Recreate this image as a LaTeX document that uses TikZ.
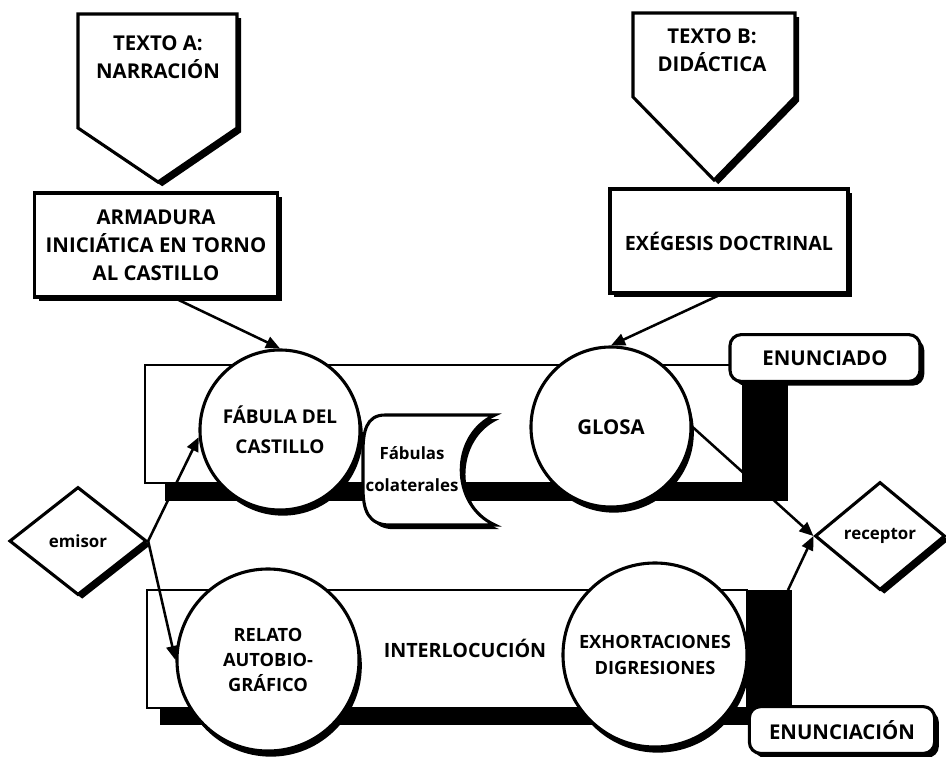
\documentclass[tikz,border=0pt]{standalone}
\usepackage{fontspec}
\setmainfont{Open Sans}
\usetikzlibrary{positioning,shapes.geometric,shadows,arrows.meta}

\begin{document}
\begin{tikzpicture}[
    x=0.025cm, y=-0.025cm,
    every node/.style={align=center, font=\bfseries\fontsize{14.5}{20}\selectfont},
    shad/.style={drop shadow={shadow xshift=3pt, shadow yshift=-3pt, fill=black, opacity=1}},
    heavy/.style={line width=2.2pt},
    textbox/.style={draw, heavy, fill=white, shad, minimum height=2.6cm},
    level/.style={draw, heavy, fill=white, shad, rounded corners=8pt, minimum height=1.17cm},
    circ/.style={circle, draw, heavy, fill=white, inner sep=0pt,
        drop shadow={shadow xshift=2pt, shadow yshift=-4pt, fill=black, opacity=1}},
    diam/.style={diamond, draw, heavy, fill=white, inner sep=0pt, shad,
        font=\bfseries\fontsize{12}{14}\selectfont},
    band/.style={draw, line width=1.6pt, fill=white},
    arr/.style={-{Triangle[length=10pt,width=8.5pt]}, line width=1.8pt}
]
\useasboundingbox (0,0) rectangle (946,756);

% Texts A and B
\draw[heavy, fill=white, shad] (78,14) -- (237,14) -- (237,128) -- (158,182) -- (78,128) -- cycle;
\node (textoA) at (158,57) {TEXTO A:\\NARRACIÓN};
\draw[heavy, fill=white, shad] (633,13) -- (795,13) -- (795,97) -- (714,180) -- (633,97) -- cycle;
\node (textoB) at (712,50) {TEXTO B:\\DIDÁCTICA};

\node[textbox, minimum width=6.08cm] (armadura) at (156,245) {ARMADURA\\INICIÁTICA EN TORNO\\AL CASTILLO};
\node[textbox, minimum width=5.95cm, font=\bfseries\fontsize{14}{20}\selectfont] (exegesis) at (729,241) {EXÉGESIS DOCTRINAL};

% Bands
\fill (165,483) rectangle (788,501);
\fill (743,365) rectangle (788,501);
\draw[band] (145,365) rectangle (743,483);
\fill (160,708) rectangle (792,725);
\fill (747,590) rectangle (792,725);
\draw[band] (147,590) rectangle (747,708);
\coordinate (cornerlow) at (788,590);

\node[level, minimum width=4.75cm] (enunciado) at (825,358) {ENUNCIADO};
\node[level, minimum width=4.63cm] (enunciacion) at (842,730) {ENUNCIACIÓN};

% Circles
\node[circ, minimum size=4cm, font=\bfseries\fontsize{13.5}{21}\selectfont] (fabula) at (280,430) {FÁBULA DEL\\CASTILLO};
\node[circ, minimum size=4cm] (glosa) at (611,427) {GLOSA};
\node[circ, minimum size=4.55cm, font=\bfseries\fontsize{13}{17.5}\selectfont] (relato) at (268,660) {RELATO\\AUTOBIO-\\GRÁFICO};
\node[circ, minimum size=4.6cm, font=\bfseries\fontsize{13}{19}\selectfont] (exhorta) at (655,655) {EXHORTACIONES\\DIGRESIONES};
\node[font=\bfseries\fontsize{14}{20}\selectfont] (interloc) at (465,648) {INTERLOCUCIÓN};

% Side fables
\draw[heavy, fill=white, shad] (495,415) -- (385,415) .. controls (366,415) and (363,432) .. (363,452)
    -- (363,488) .. controls (363,510) and (368,525) .. (390,525) -- (495,525)
    .. controls (450,505) and (450,435) .. cycle;
\node[font=\bfseries\fontsize{12}{23}\selectfont] (colat) at (412,469) {Fábulas\\colaterales};

% Emitter and receiver
\node[diam, minimum width=3.43cm, minimum height=2.7cm] (emisor) at (78,541) {emisor};
\node[diam, minimum width=3.25cm, minimum height=2.7cm] (receptor) at (880,536) {receptor};

% Arrows
\draw[arr] ([xshift=14pt]armadura.south) -- (fabula.north);
\draw[arr] ([xshift=-6pt]exegesis.south) -- (glosa.north);
\draw[arr] (emisor.east) -- (fabula.185);
\draw[arr] (emisor.east) -- (relato.west);
\draw[arr] (glosa.east) -- (receptor.west);
\draw[arr] (cornerlow) -- (receptor.west);

\end{tikzpicture}
\end{document}
